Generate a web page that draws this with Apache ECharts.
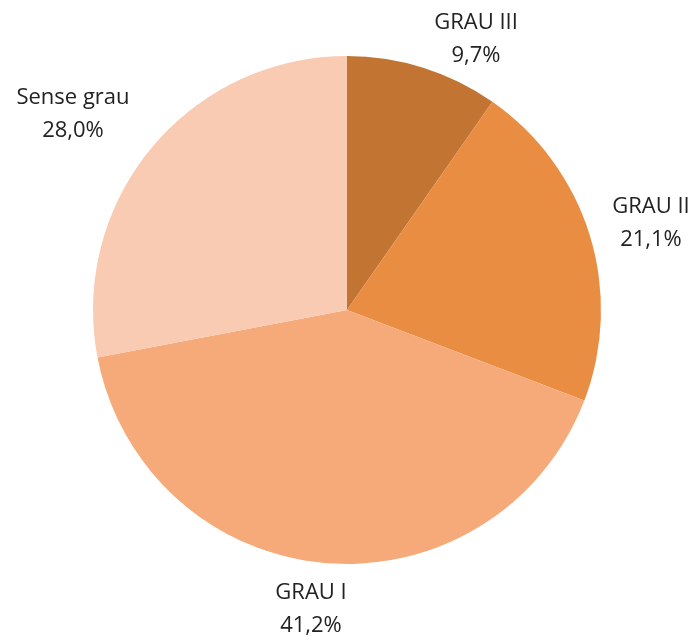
<!DOCTYPE html>
<html lang="ca">
<head>
    <meta charset="UTF-8">
    <title>Grau</title>
    <script src="https://cdn.jsdelivr.net/npm/echarts@6/dist/echarts.min.js"></script>
    <style>
        html, body { margin: 0; padding: 0; background: #fff; }
    </style>
</head>
<body>
<div id="main" style="width: 695px;height:637px;"></div>
<script type="text/javascript">
    // dades
    var categories = ['GRAU III', 'GRAU II', 'GRAU I', 'Sense grau'];
    var values = [9.7, 21.1, 41.2, 28.0];
    var colors = ['#C27533', '#E88D42', '#F7AA79', '#F9CBB2'];
    // posició del centre de cada etiqueta
    var labelPos = [[476, 39], [651, 223], [311, 609], [73, 114]];

    var myChart = echarts.init(document.getElementById('main'));

    var pieData = [];
    for (var i = 0; i < categories.length; i++) {
        pieData.push({ name: categories[i], value: values[i], itemStyle: { color: colors[i] } });
    }

    myChart.setOption({
        animation: false,
        series: [
            {
                type: 'pie',
                center: [347, 310],
                radius: 254,
                startAngle: 90,
                clockwise: true,
                data: pieData,
                label: {
                    show: true,
                    position: 'outside',
                    overflow: 'none',
                    edgeDistance: 0,
                    bleedMargin: 0,
                    fontFamily: 'Open Sans',
                    fontSize: 22,
                    lineHeight: 33,
                    color: '#222222',
                    align: 'center',
                    formatter: function (p) {
                        return p.name + '\n' + p.value.toFixed(1).replace('.', ',') + '%';
                    }
                },
                labelLine: { show: false },
                labelLayout: function (params) {
                    var pos = labelPos[params.dataIndex];
                    return { x: pos[0], y: pos[1], align: 'center', verticalAlign: 'middle' };
                },
                emphasis: { disabled: true }
            }
        ]
    });
</script>
</body>
</html>
